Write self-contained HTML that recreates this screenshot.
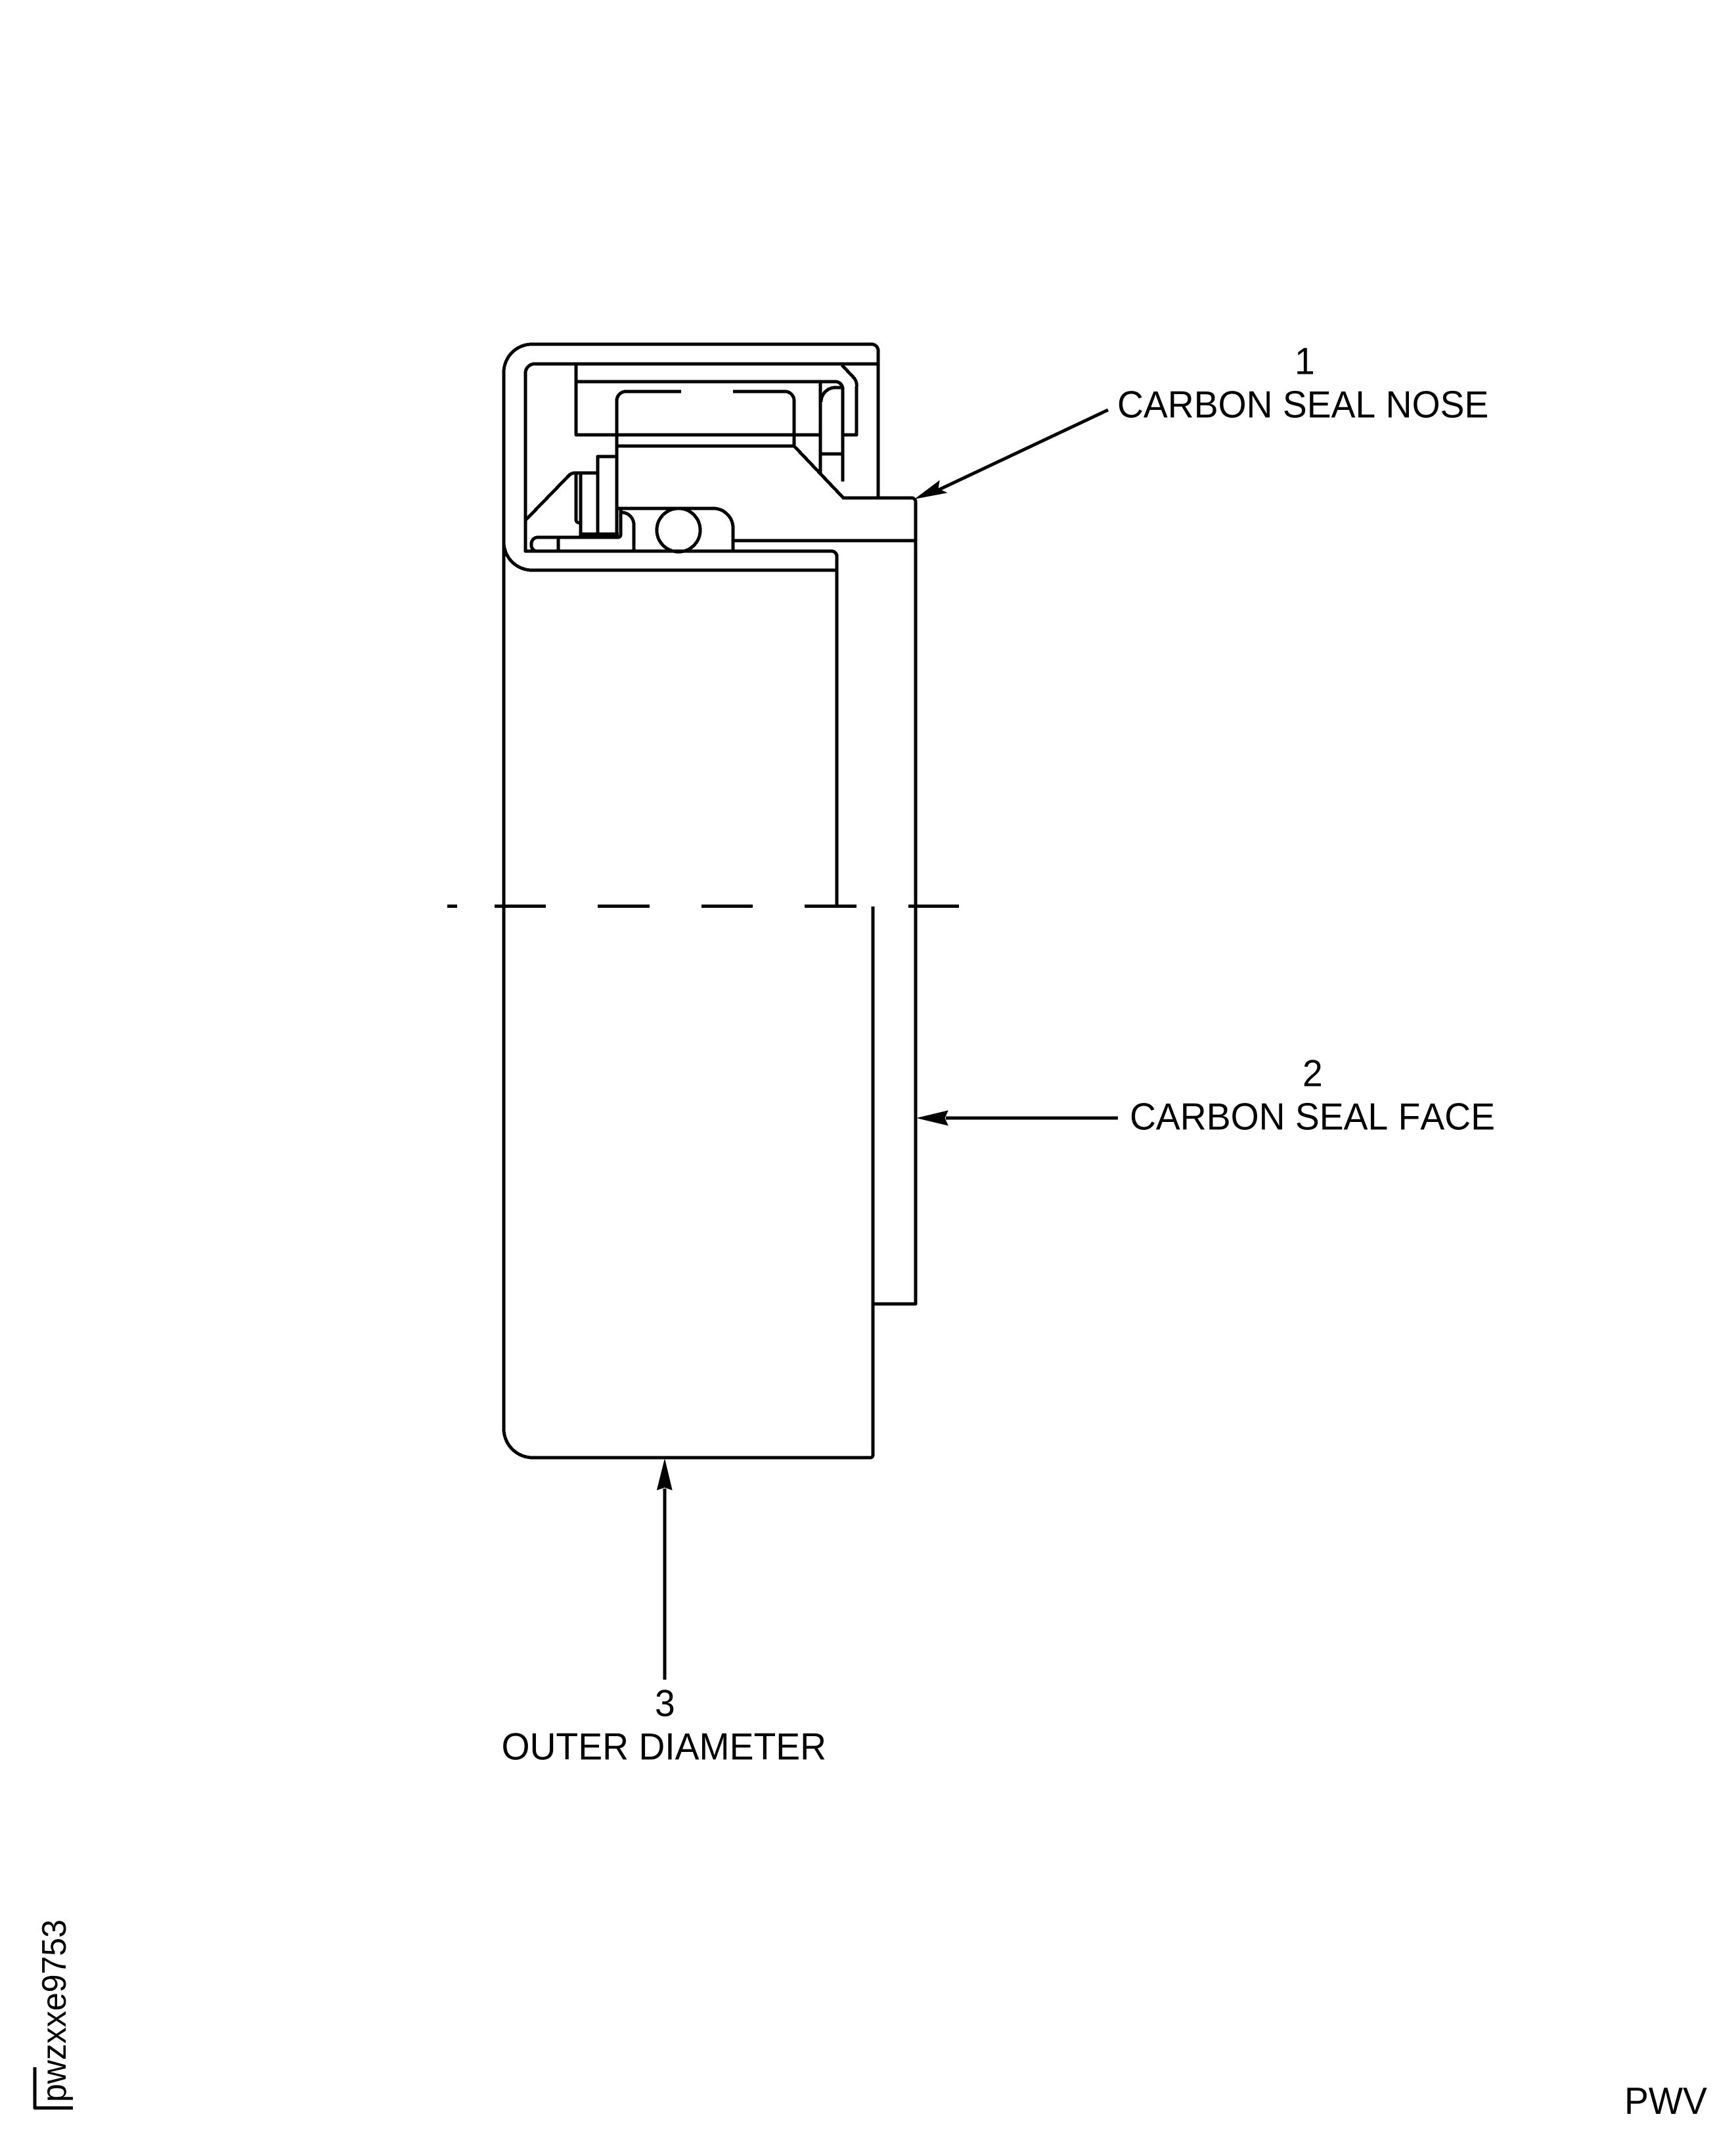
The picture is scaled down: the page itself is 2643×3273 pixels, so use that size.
<!DOCTYPE html>
<html>
<head>
<meta charset="utf-8">
<style>
html,body{margin:0;padding:0;background:#fff;}
svg{display:block;}
text{font-family:"Liberation Sans",Arial,sans-serif;font-size:55.3px;fill:#000;font-kerning:none;}
</style>
</head>
<body>
<svg width="2643" height="3273" viewBox="0 0 2643 3273" xmlns="http://www.w3.org/2000/svg">
<rect width="2643" height="3273" fill="#fff"/>
<g fill="none" stroke="#000" stroke-width="5" stroke-linejoin="round" shape-rendering="crispEdges">
  <!-- outer housing -->
  <path d="M767 2175V567A43 43 0 0 1 810 524H1327A10 10 0 0 1 1337 534V758"/>
  <path d="M767 825A43 43 0 0 0 810 868H1273"/>
  <path d="M767 2175A44 44 0 0 0 811 2219H1325A4 4 0 0 0 1329 2215V1380"/>
  <!-- inner liner -->
  <path d="M1337 554H814A14 14 0 0 0 800 568V839H1266A8 8 0 0 1 1274 847V1379"/>
  <path d="M1282 556L1299 574A18 18 0 0 1 1304 590V662H1284"/>
  <path d="M877 554V662H1249"/>
  <path d="M877 581H1272A11 11 0 0 1 1283 592V733"/>
  <path d="M1249 581V722"/>
  <path d="M1250 612A22 22 0 0 1 1270 590H1283"/>
  <path d="M1249 691H1283"/>
  <!-- carbon seal -->
  <path d="M1037 596H953A14 14 0 0 0 939 610V815"/>
  <path d="M1116 596H1195A14 14 0 0 1 1209 610V679L1284 758H1388A6 6 0 0 1 1394 764V1985H1329"/>
  <path d="M939 679H1209"/>
  <!-- washers -->
  <path d="M939 695H910V813"/>
  <path d="M910 720H877A14 14 0 0 0 865 725L800 792"/>
  <path d="M877 720V791Q877 796 883 796"/>
  <path d="M884 720V818"/>
  <path d="M884 813H942"/>
  <path d="M818 818H941A4 4 0 0 0 945 814V776"/>
  <path d="M818 818A10 10 0 0 0 809 829A10 10 0 0 0 815 839"/>
  <path d="M850 818V839"/>
  <!-- o-ring groove -->
  <path d="M947 780A19 19 0 0 1 965 799V839"/>
  <path d="M939 774H1086A30 30 0 0 1 1116 804V839"/>
  <path d="M1116 823H1394"/>
  <circle cx="1033" cy="807" r="33"/>
  <!-- center line -->
  <path d="M681 1379.500H696M753 1379.500H831M910 1379.500H989M1068 1379.500H1146M1225 1379.500H1304M1383 1379.500H1460"/>
  <!-- corner mark -->
  <path d="M53 3147V3209H111"/>
</g>
<g fill="none" stroke="#000" stroke-width="5">
  <path d="M1687 624L1422 749"/>
  <path d="M1702 1702H1440"/>
  <path d="M1012 2557V2266"/>
</g>
<g fill="#000" stroke="#000" stroke-width="1">
  <path d="M1394 759L1430 732L1428 744L1441 750Z"/>
  <path d="M1397 1702L1443 1691L1438 1702L1443 1713Z"/>
  <path d="M1012 2222L1000.500 2268L1012 2264L1023 2268Z"/>
</g>
<text transform="translate(1971 569.500) scale(1 1.04)">1</text>
<text transform="translate(1701 635.500) scale(1 1.04)">CARBON SEAL NOSE</text>
<text transform="translate(1983 1653.500) scale(1 1.04)">2</text>
<text transform="translate(1720 1719.500) scale(1 1.04)">CARBON SEAL FACE</text>
<text transform="translate(997 2612.500) scale(1 1.04)">3</text>
<text transform="translate(763.500 2678.500) scale(1 1.04)">OUTER DIAMETER</text>
<text transform="translate(2473 3218) scale(1 1.04)">PWV</text>
<text transform="translate(100 3200) rotate(-90) scale(1 1.04)" style="font-size:50px">pwzxxe9753</text>
</svg>
</body>
</html>
